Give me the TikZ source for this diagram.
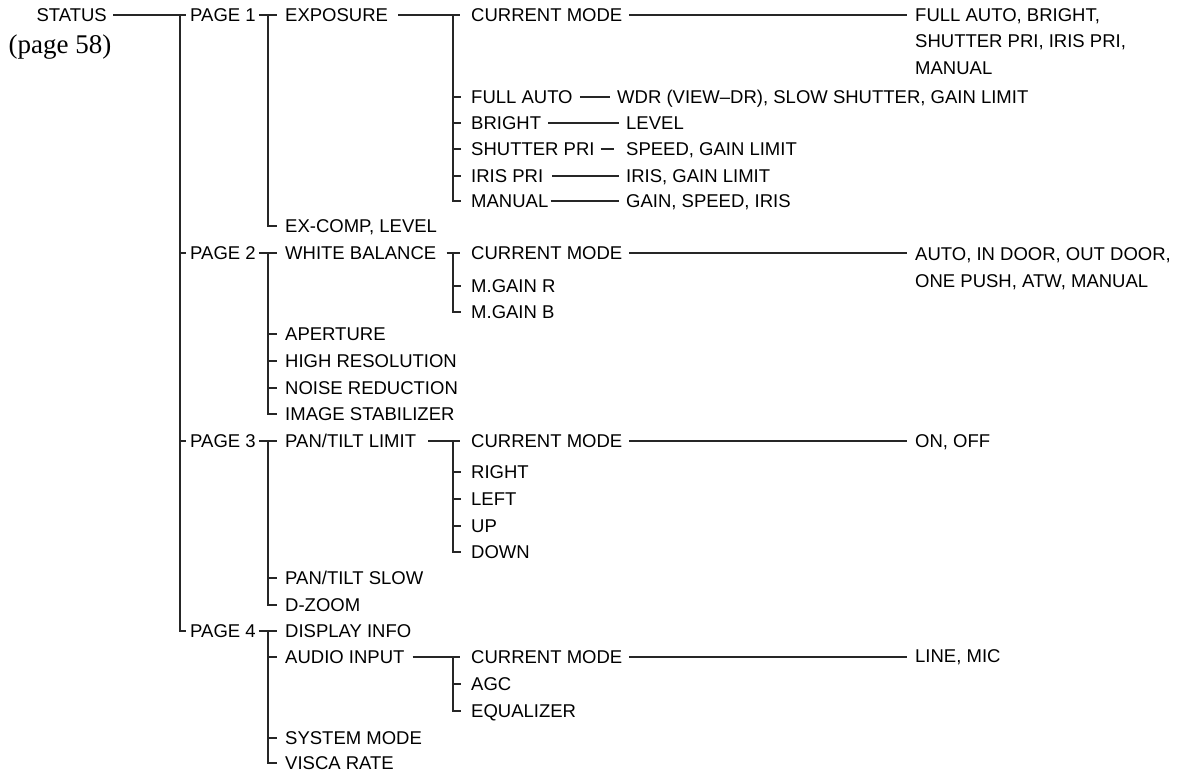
\documentclass[tikz,border=0pt]{standalone}
\usepackage{fontspec}
\setmainfont{Liberation Sans}
\newfontfamily\serifpage{Liberation Serif}
\begin{document}
\begin{tikzpicture}[x=1pt,y=-1pt,
  lbl/.style={anchor=west,inner sep=0pt,text height=13.2pt,text depth=0pt,font=\fontsize{18.5}{22}\selectfont},
  ln/.style={line width=1.3pt,draw=black!85}]
\useasboundingbox (0,0) rectangle (1179,774);
% level 0
\node[lbl,anchor=east] (status) at (107,15) {STATUS};
\node[inner sep=0pt,font=\serifpage\fontsize{27}{30}\selectfont] (page58) at (60,47) {(page 58)};
% level 1
\node[lbl] (page1) at (190,15) {PAGE 1};
\node[lbl] (page2) at (190,253) {PAGE 2};
\node[lbl] (page3) at (190,441) {PAGE 3};
\node[lbl] (page4) at (190,631) {PAGE 4};
% level 2
\node[lbl] (exposure) at (285,15) {EXPOSURE};
\node[lbl] (excomp) at (285,226) {EX-COMP, LEVEL};
\node[lbl] (wb) at (285,253) {WHITE BALANCE};
\node[lbl] (aperture) at (285,334) {APERTURE};
\node[lbl] (highres) at (285,361) {HIGH RESOLUTION};
\node[lbl] (noise) at (285,388) {NOISE REDUCTION};
\node[lbl] (imgstab) at (285,414) {IMAGE STABILIZER};
\node[lbl] (ptlimit) at (285,441) {PAN/TILT LIMIT};
\node[lbl] (ptslow) at (285,578) {PAN/TILT SLOW};
\node[lbl] (dzoom) at (285,605) {D-ZOOM};
\node[lbl] (dispinfo) at (285,631) {DISPLAY INFO};
\node[lbl] (audio) at (285,657) {AUDIO INPUT};
\node[lbl] (sysmode) at (285,738) {SYSTEM MODE};
\node[lbl] (visca) at (285,763) {VISCA RATE};
% level 3
\node[lbl] (cma) at (471,15) {CURRENT MODE};
\node[lbl] (fullauto) at (471,97) {FULL AUTO};
\node[lbl] (bright) at (471,123) {BRIGHT};
\node[lbl] (shutter) at (471,149) {SHUTTER PRI};
\node[lbl] (iris) at (471,176) {IRIS PRI};
\node[lbl] (manual) at (471,201) {MANUAL};
\node[lbl] (cmb) at (471,253) {CURRENT MODE};
\node[lbl] (mgainr) at (471,286) {M.GAIN R};
\node[lbl] (mgainb) at (471,312) {M.GAIN B};
\node[lbl] (cmc) at (471,441) {CURRENT MODE};
\node[lbl] (right) at (471,472) {RIGHT};
\node[lbl] (left) at (471,499) {LEFT};
\node[lbl] (up) at (471,526) {UP};
\node[lbl] (down) at (471,552) {DOWN};
\node[lbl] (cmd) at (471,657) {CURRENT MODE};
\node[lbl] (agc) at (471,684) {AGC};
\node[lbl] (eq) at (471,711) {EQUALIZER};
% level 4
\node[lbl] (modesa) at (915,15) {FULL AUTO, BRIGHT,};
\node[lbl] (modesb) at (915,41) {SHUTTER PRI, IRIS PRI,};
\node[lbl] (modesc) at (915,68) {MANUAL};
\node[lbl] (wdr) at (617,97) {WDR (VIEW–DR), SLOW SHUTTER, GAIN LIMIT};
\node[lbl] (level) at (626,123) {LEVEL};
\node[lbl] (speedgl) at (626,149) {SPEED, GAIN LIMIT};
\node[lbl] (irisgl) at (626,176) {IRIS, GAIN LIMIT};
\node[lbl] (gsi) at (626,201) {GAIN, SPEED, IRIS};
\node[lbl] (wbmodesa) at (915,254) {AUTO, IN DOOR, OUT DOOR,};
\node[lbl] (wbmodesb) at (915,281) {ONE PUSH, ATW, MANUAL};
\node[lbl] (onoff) at (915,441) {ON, OFF};
\node[lbl] (linemic) at (915,656) {LINE, MIC};
% vertical positions
\coordinate (v1) at (180,0);
\coordinate (v2) at (268,0);
\coordinate (v3) at (453,0);
% level 0 -> 1
\draw[ln] ([xshift=6pt]status.east) -- ([xshift=-4pt]page1.west);
\draw[ln] (v1 |- page1.west) -- (v1 |- page4.west) -- ([xshift=-4pt]page4.west);
\draw[ln] (v1 |- page2.west) -- ([xshift=-4pt]page2.west);
\draw[ln] (v1 |- page3.west) -- ([xshift=-4pt]page3.west);
% page 1
\draw[ln] ([xshift=3pt]page1.east) -- ([xshift=-8pt]exposure.west);
\draw[ln] (v2 |- page1.east) -- (v2 |- excomp.west) -- ([xshift=-8pt]excomp.west);
% page 2
\draw[ln] ([xshift=3pt]page2.east) -- ([xshift=-8pt]wb.west);
\draw[ln] (v2 |- page2.east) -- (v2 |- imgstab.west) -- ([xshift=-8pt]imgstab.west);
\foreach \n in {aperture,highres,noise}
  \draw[ln] (v2 |- \n.west) -- ([xshift=-8pt]\n.west);
% page 3
\draw[ln] ([xshift=3pt]page3.east) -- ([xshift=-8pt]ptlimit.west);
\draw[ln] (v2 |- page3.east) -- (v2 |- dzoom.west) -- ([xshift=-8pt]dzoom.west);
\draw[ln] (v2 |- ptslow.west) -- ([xshift=-8pt]ptslow.west);
% page 4
\draw[ln] ([xshift=3pt]page4.east) -- ([xshift=-8pt]dispinfo.west);
\draw[ln] (v2 |- page4.east) -- (v2 |- visca.west) -- ([xshift=-8pt]visca.west);
\foreach \n in {audio,sysmode}
  \draw[ln] (v2 |- \n.west) -- ([xshift=-8pt]\n.west);
% exposure
\draw[ln] ([xshift=10pt]exposure.east) -- ([xshift=-11pt]cma.west);
\draw[ln] (v3 |- cma.west) -- (v3 |- manual.west) -- ([xshift=-10pt]manual.west);
\foreach \n in {fullauto,bright,shutter,iris}
  \draw[ln] (v3 |- \n.west) -- ([xshift=-10pt]\n.west);
% white balance
\draw[ln] ([xshift=10pt]wb.east) -- ([xshift=-11pt]cmb.west);
\draw[ln] (v3 |- cmb.west) -- (v3 |- mgainb.west) -- ([xshift=-10pt]mgainb.west);
\draw[ln] (v3 |- mgainr.west) -- ([xshift=-10pt]mgainr.west);
% pan/tilt limit
\draw[ln] ([xshift=12pt]ptlimit.east) -- ([xshift=-11pt]cmc.west);
\draw[ln] (v3 |- cmc.west) -- (v3 |- down.west) -- ([xshift=-10pt]down.west);
\foreach \n in {right,left,up}
  \draw[ln] (v3 |- \n.west) -- ([xshift=-10pt]\n.west);
% audio input
\draw[ln] ([xshift=8pt]audio.east) -- ([xshift=-11pt]cmd.west);
\draw[ln] (v3 |- cmd.west) -- (v3 |- eq.west) -- ([xshift=-10pt]eq.west);
\draw[ln] (v3 |- agc.west) -- ([xshift=-10pt]agc.west);
% level 3 -> 4
\draw[ln] ([xshift=7pt]cma.east) -- ([xshift=-8pt]modesa.west);
\draw[ln] ([xshift=7pt]fullauto.east) -- ([xshift=-7pt]wdr.west);
\draw[ln] ([xshift=7pt]bright.east) -- ([xshift=-7pt]level.west);
\draw[ln] ([xshift=6pt]shutter.east) -- ([xshift=-12pt]speedgl.west);
\draw[ln] ([xshift=9pt]iris.east) -- ([xshift=-7pt]irisgl.west);
\draw[ln] ([xshift=2pt]manual.east) -- ([xshift=-7pt]gsi.west);
\draw[ln] ([xshift=7pt]cmb.east) -- ([xshift=-8pt]cmb.east -| wbmodesa.west);
\draw[ln] ([xshift=7pt]cmc.east) -- ([xshift=-8pt]onoff.west);
\draw[ln] ([xshift=7pt]cmd.east) -- ([xshift=-8pt]cmd.east -| linemic.west);
\end{tikzpicture}
\end{document}
